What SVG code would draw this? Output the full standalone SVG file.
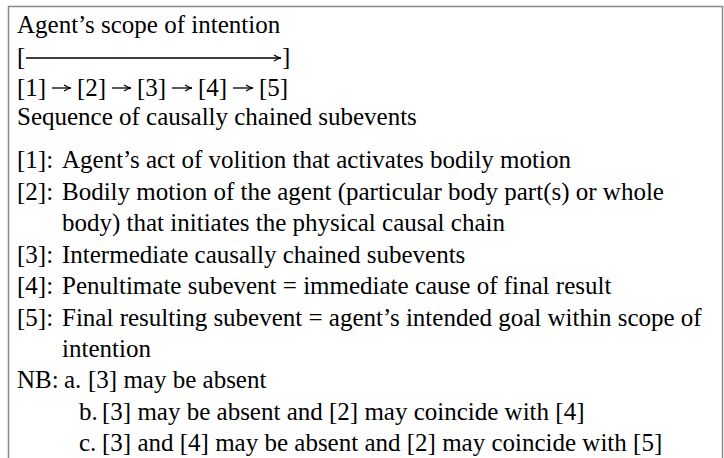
<svg xmlns="http://www.w3.org/2000/svg" width="724" height="458" viewBox="0 0 724 458">
<style>
  text { font-family: "Liberation Serif", "Times New Roman", serif; font-size: 25px; fill: #000; }
  .frame { fill: none; stroke: #8a8a8a; stroke-width: 1.5; }
  .arr { stroke: #000; stroke-width: 1.3; fill: none; marker-end: url(#ah); }
</style>
<defs>
  <marker id="ah" markerWidth="10" markerHeight="8" refX="9" refY="4" orient="auto" markerUnits="userSpaceOnUse">
    <path d="M2,1 Q6,3.6 9,4 Q6,4.4 2,7" fill="none" stroke="#000" stroke-width="1.2"/>
  </marker>
</defs>
<rect width="724" height="458" fill="#fff"/>
<path class="frame" d="M8.5,470 V6.5 H722.5 V470"/>

<g id="header">
  <text x="17" y="33">Agent’s scope of intention</text>
  <text x="17" y="65">[</text>
  <text x="282" y="65">]</text>
  <text y="96"><tspan x="17">[1]</tspan><tspan x="77">[2]</tspan><tspan x="137">[3]</tspan><tspan x="198">[4]</tspan><tspan x="259">[5]</tspan></text>
  <text x="17" y="125">Sequence of causally chained subevents</text>
</g>

<g id="connectors">
  <line class="arr" x1="26" y1="58" x2="281" y2="58"/>
  <line class="arr" x1="52" y1="88" x2="71" y2="88"/>
  <line class="arr" x1="112" y1="88" x2="131" y2="88"/>
  <line class="arr" x1="172" y1="88" x2="192" y2="88"/>
  <line class="arr" x1="233" y1="88" x2="253" y2="88"/>
</g>

<g id="items">
  <text x="17" y="168">[1]:</text>
  <text x="62" y="168">Agent’s act of volition that activates bodily motion</text>
  <text x="17" y="199.5">[2]:</text>
  <text x="62" y="199.5">Bodily motion of the agent (particular body part(s) or whole</text>
  <text x="62" y="231">body) that initiates the physical causal chain</text>
  <text x="17" y="262.5">[3]:</text>
  <text x="62" y="262.5">Intermediate causally chained subevents</text>
  <text x="17" y="294">[4]:</text>
  <text x="62" y="294">Penultimate subevent = immediate cause of final result</text>
  <text x="17" y="325.5">[5]:</text>
  <text x="62" y="325.5">Final resulting subevent = agent’s intended goal within scope of</text>
  <text x="62" y="357">intention</text>
</g>

<g id="notes">
  <text x="17" y="388">NB:</text>
  <text x="64" y="388">a.</text>
  <text x="88" y="388">[3] may be absent</text>
  <text x="79" y="419.5">b.</text>
  <text x="102" y="419.5">[3] may be absent and [2] may coincide with [4]</text>
  <text x="79" y="451">c.</text>
  <text x="102" y="451">[3] and [4] may be absent and [2] may coincide with [5]</text>
</g>
</svg>
